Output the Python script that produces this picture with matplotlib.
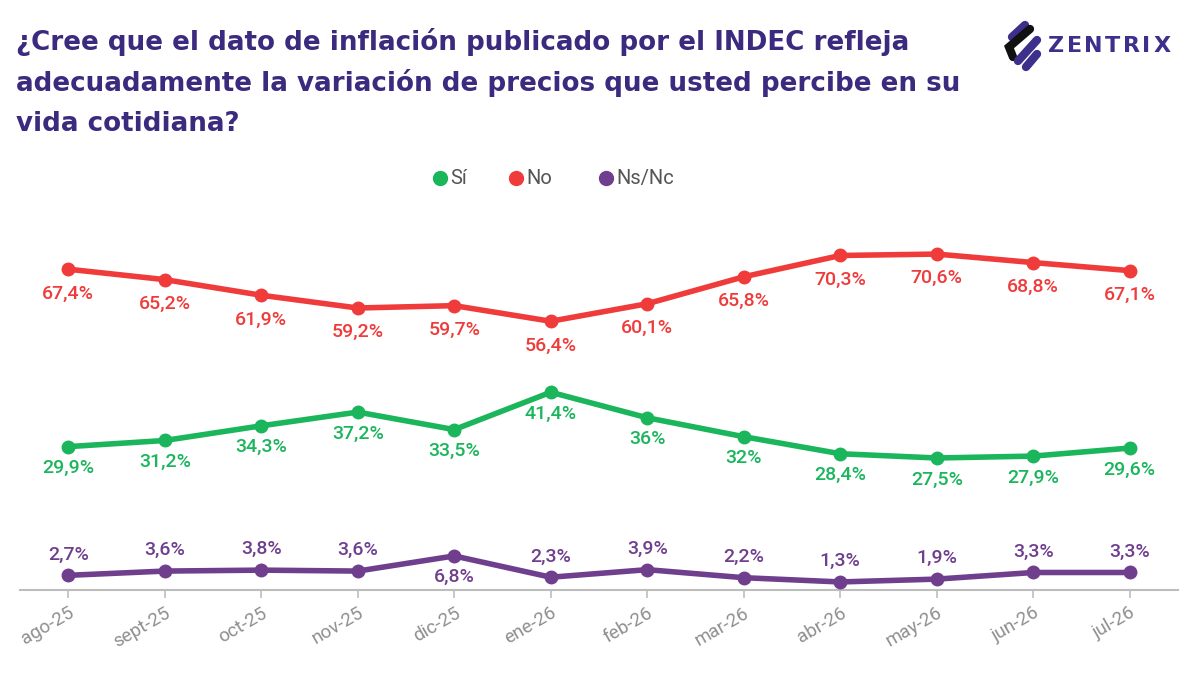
import numpy as np
import matplotlib
matplotlib.use("Agg")
import matplotlib.pyplot as plt
from matplotlib.lines import Line2D

plt.rcParams['font.family'] = ['Roboto', 'DejaVu Sans']

# data
meses = ['ago-25', 'sept-25', 'oct-25', 'nov-25', 'dic-25', 'ene-26',
         'feb-26', 'mar-26', 'abr-26', 'may-26', 'jun-26', 'jul-26']
si = [29.9, 31.2, 34.3, 37.2, 33.5, 41.4, 36.0, 32.0, 28.4, 27.5, 27.9, 29.6]
no = [67.4, 65.2, 61.9, 59.2, 59.7, 56.4, 60.1, 65.8, 70.3, 70.6, 68.8, 67.1]
nsnc = [2.7, 3.6, 3.8, 3.6, 6.8, 2.3, 3.9, 2.2, 1.3, 1.9, 3.3, 3.3]
# which Ns/Nc labels go under the point
nsnc_debajo = ['dic-25']

verde = '#1bb55c'
rojo = '#f03b3b'
violeta = '#6f3f8e'
titulo_color = '#3b2a7e'
logo_color = '#3d2f8c'

def fmt(v):
    s = ('%.1f' % v).rstrip('0').rstrip('.')
    return s.replace('.', ',') + '%'

fig = plt.figure(figsize=(12, 6.75), dpi=100)
ax = fig.add_axes([20 / 1200, 85 / 675, 1158 / 1200, 370 / 675])

x = np.arange(len(meses))
series = [(si, verde, 'Sí'), (no, rojo, 'No'), (nsnc, violeta, 'Ns/Nc')]
for vals, col, nombre in series:
    ax.plot(x, vals, color=col, lw=4, marker='o', ms=9, solid_capstyle='round',
            zorder=3)

# point labels
lab = dict(ha='center', va='center', fontsize=14, fontweight='medium',
           textcoords='offset points')
for i, v in enumerate(si):
    ax.annotate(fmt(v), (i, v), xytext=(0, -15.5), color=verde, **lab)
for i, v in enumerate(no):
    ax.annotate(fmt(v), (i, v), xytext=(0, -17.5), color=rojo, **lab)
for i, v in enumerate(nsnc):
    dy = -15 if meses[i] in nsnc_debajo else 15
    ax.annotate(fmt(v), (i, v), xytext=(0, dy), color=violeta, **lab)

ax.set_xlim(-0.5, 11.5)
ax.set_ylim(-0.4, 77.8)
ax.set_yticks([])
for s in ['top', 'right', 'left']:
    ax.spines[s].set_visible(False)
ax.spines['bottom'].set_color('#bdbdbd')
ax.spines['bottom'].set_linewidth(1.5)
ax.set_xticks(x)
ax.set_xticklabels(meses, rotation=30, ha='right', rotation_mode='anchor',
                   fontsize=13.5, color='#8f8f8f')
ax.tick_params(axis='x', length=6, width=1.2, color='#bdbdbd', pad=4)

# legend
leg_y = 1 - 178 / 675
for (vals, col, nombre), px in zip(series, [440, 516, 606]):
    fig.add_artist(Line2D([px / 1200], [leg_y], marker='o', ms=10, color=col,
                          lw=0, transform=fig.transFigure))
    fig.text((px + 10) / 1200, leg_y, nombre, fontsize=14.5, color='#555555',
             va='center', ha='left')

# title
titulo = ['¿Cree que el dato de inflación publicado por el INDEC refleja',
          'adecuadamente la variación de precios que usted percibe en su',
          'vida cotidiana?']
for k, linea in enumerate(titulo):
    fig.text(16 / 1200, 1 - (42 + 41 * k) / 675, linea, fontsize=18.8,
             fontweight='bold', color=titulo_color, va='center', ha='left',
             family='DejaVu Sans')

# logo
def trazo(pts, col):
    xs = [p[0] / 1200 for p in pts]
    ys = [1 - p[1] / 675 for p in pts]
    fig.add_artist(Line2D(xs, ys, color=col, lw=6, solid_capstyle='round',
                          solid_joinstyle='miter', transform=fig.transFigure))

trazo([(1012, 37), (1025, 25)], logo_color)
trazo([(1030, 29), (1009, 47), (1013, 57)], '#111111')
trazo([(1018, 61), (1037, 40)], logo_color)
trazo([(1026, 67), (1037, 54)], logo_color)

renderer = fig.canvas.get_renderer()
px = 1048
for letra in 'ZENTRIX':
    t = fig.text(px / 1200, 1 - 46 / 675, letra, fontsize=16, color=logo_color,
                 va='center', ha='left', family='DejaVu Sans',
                 fontweight='semibold')
    px += t.get_window_extent(renderer).width + 2.5

fig.savefig('out.png', dpi=100, facecolor='white')
